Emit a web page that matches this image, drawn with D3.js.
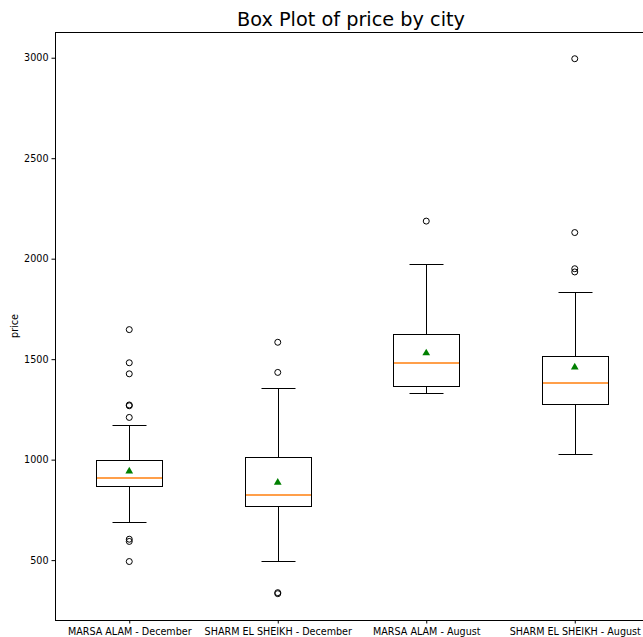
<!DOCTYPE html>
<html>
<head>
<meta charset="utf-8">
<script src="https://cdn.jsdelivr.net/npm/d3@7"></script>
<style>
  body { margin: 0; background: #fff; }
  svg { display: block; font-family: "DejaVu Sans", sans-serif; }
</style>
</head>
<body>
<svg id="chart" width="643" height="637"></svg>
<script>
// values
var cities = ["MARSA ALAM - December", "SHARM EL SHEIKH - December", "MARSA ALAM - August", "SHARM EL SHEIKH - August"];
var whiskerLow = [690, 495, 1333, 1026];
var q1 = [867, 768, 1366, 1276];
var median = [909, 823, 1482, 1379];
var q3 = [998, 1015, 1627, 1518];
var whiskerHigh = [1172, 1354, 1973, 1834];
var means = [942, 886, 1530, 1460];
var fliers = [
  [1647, 1482, 1427, 1272, 1268, 1210, 604, 593, 493],
  [1584, 1434, 338, 333],
  [2187],
  [2995, 2130, 1950, 1934]
];
var yTicks = [500, 1000, 1500, 2000, 2500, 3000];

var svg = d3.select("#chart"),
    margin = {top: 32, left: 55, bottom: 620, right: 649};

var x = d3.scaleLinear().domain([0.5, 4.5]).range([margin.left, margin.right]);
var y = d3.scaleLinear().domain([202, 3128]).range([margin.bottom, margin.top]);

// snap to pixel centres so 1px lines stay crisp
var px = function(v) { return Math.round(x(v)) + 0.5; };
var py = function(v) { return Math.round(y(v)) + 0.5; };

var boxW = Math.round(x(1.225) - x(1));   // half box width
var capW = Math.round(boxW / 2);

var data = cities.map(function(c, i) {
  return {name: c, pos: i + 1, lo: whiskerLow[i], q1: q1[i], med: median[i], q3: q3[i], hi: whiskerHigh[i], mean: means[i], fliers: fliers[i]};
});

var g = svg.append("g");

var box = g.selectAll(".box").data(data).enter().append("g").attr("class", "box");

// whiskers
box.append("line")
    .attr("x1", function(d) { return px(d.pos); }).attr("x2", function(d) { return px(d.pos); })
    .attr("y1", function(d) { return py(d.q1); }).attr("y2", function(d) { return py(d.lo); })
    .attr("stroke", "#000").attr("stroke-width", 1);
box.append("line")
    .attr("x1", function(d) { return px(d.pos); }).attr("x2", function(d) { return px(d.pos); })
    .attr("y1", function(d) { return py(d.q3); }).attr("y2", function(d) { return py(d.hi); })
    .attr("stroke", "#000").attr("stroke-width", 1);
// caps
box.append("line")
    .attr("x1", function(d) { return px(d.pos) - capW; }).attr("x2", function(d) { return px(d.pos) + capW; })
    .attr("y1", function(d) { return py(d.lo); }).attr("y2", function(d) { return py(d.lo); })
    .attr("stroke", "#000").attr("stroke-width", 1);
box.append("line")
    .attr("x1", function(d) { return px(d.pos) - capW; }).attr("x2", function(d) { return px(d.pos) + capW; })
    .attr("y1", function(d) { return py(d.hi); }).attr("y2", function(d) { return py(d.hi); })
    .attr("stroke", "#000").attr("stroke-width", 1);
// box
box.append("rect")
    .attr("x", function(d) { return px(d.pos) - boxW; })
    .attr("width", 2 * boxW)
    .attr("y", function(d) { return py(d.q3); })
    .attr("height", function(d) { return py(d.q1) - py(d.q3); })
    .attr("fill", "none").attr("stroke", "#000").attr("stroke-width", 1);
// median
box.append("line")
    .attr("x1", function(d) { return px(d.pos) - boxW + 0.5; }).attr("x2", function(d) { return px(d.pos) + boxW - 0.5; })
    .attr("y1", function(d) { return Math.round(y(d.med)); }).attr("y2", function(d) { return Math.round(y(d.med)); })
    .attr("stroke", "#ff7f0e").attr("stroke-width", 1.6);
// mean
box.append("path")
    .attr("d", d3.symbol().type(d3.symbolTriangle).size(26))
    .attr("transform", function(d) { return "translate(" + x(d.pos) + "," + y(d.mean) + ")"; })
    .attr("fill", "#008000");
// fliers
box.selectAll(".flier").data(function(d) { return d.fliers.map(function(v) { return {pos: d.pos, v: v}; }); })
  .enter().append("circle")
    .attr("cx", function(d) { return x(d.pos); })
    .attr("cy", function(d) { return y(d.v); })
    .attr("r", 3)
    .attr("fill", "none").attr("stroke", "#000").attr("stroke-width", 1);

// axes
var xAxis = g.append("g")
    .attr("transform", "translate(0," + margin.bottom + ")")
    .call(d3.axisBottom(x).tickValues([1, 2, 3, 4]).tickFormat(function(d) { return cities[d - 1]; }).tickSize(3.5).tickSizeOuter(0));
var yAxis = g.append("g")
    .attr("transform", "translate(" + margin.left + ",0)")
    .call(d3.axisLeft(y).tickValues(yTicks).tickFormat(d3.format("d")).tickSize(3.5).tickSizeOuter(0));

[xAxis, yAxis].forEach(function(a) {
  a.select(".domain").remove();
  a.selectAll("text").attr("fill", "#000").style("font-size", "9.6px").style("font-family", "DejaVu Sans, sans-serif");
  a.selectAll("line").attr("stroke", "#000");
});
xAxis.selectAll("text").attr("dy", "0.9em");

// spines
g.append("rect")
    .attr("x", margin.left + 0.5).attr("y", margin.top + 0.5)
    .attr("width", margin.right - margin.left).attr("height", margin.bottom - margin.top)
    .attr("fill", "none").attr("stroke", "#000").attr("stroke-width", 1);

svg.append("text")
    .attr("x", 351).attr("y", 26)
    .attr("text-anchor", "middle")
    .style("font-size", "19.3px")
    .text("Box Plot of price by city");

svg.append("text")
    .attr("transform", "translate(18," + ((margin.top + margin.bottom) / 2) + ") rotate(-90)")
    .attr("text-anchor", "middle")
    .style("font-size", "9.6px")
    .text("price");
</script>
</body>
</html>
